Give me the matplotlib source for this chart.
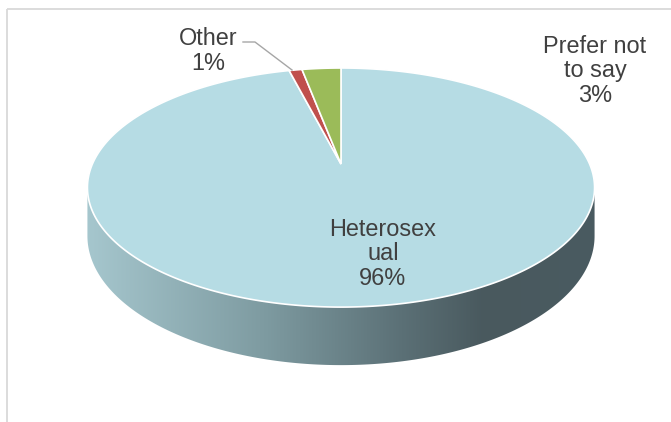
#!/usr/bin/env python3
"""3D pie chart: sexual orientation of respondents."""
import numpy as np
import matplotlib.pyplot as plt
from matplotlib.patches import Polygon, Rectangle
from matplotlib.colors import to_rgb

# Data
labels = ['Heterosex\nual', 'Other', 'Prefer not\nto say']
values = [96, 1, 3]
colors = ['#B6DCE4', '#C0504D', '#9BBB59']

# Label placement (pixel coords, y down)
label_pos = [(383, 254), (208, 51), (595, 71)]

# Pie geometry (perspective projection of a tilted disc)
CX, CY = 341, 164          # projected centre of the disc
A, C, K = 248.6, 114.9, 0.197
D0 = 46.6                  # thickness at the centre

plt.rcParams['font.family'] = ['Liberation Sans', 'DejaVu Sans']

fig = plt.figure(figsize=(6.71, 4.22), dpi=100)
ax = fig.add_axes([0, 0, 1, 1])
ax.set_xlim(0, 671)
ax.set_ylim(422, 0)
ax.axis('off')


def proj(theta, drop=0.0):
    # theta en degres, sens horaire depuis midi
    t = np.radians(theta)
    u, v = np.sin(t), np.cos(t)
    d = 1 + K * v
    return CX + A * u / d, CY - C * v / d + drop * D0 / d


# Side (front part of the cylinder) with a horizontal shading
t_r = np.degrees(np.arccos(-K))
t_l = 360 - t_r
th = np.linspace(t_r, t_l, 200)
xt, yt = proj(th)
xb, yb = proj(th[::-1], drop=1.0)
side = Polygon(np.column_stack([np.r_[xt, xb], np.r_[yt, yb]]),
               closed=True, facecolor='none', edgecolor='none')
ax.add_patch(side)

stops = [(0.0, '#A6C7CE'), (0.35, '#7E9BA1'), (0.62, '#5B7076'),
         (0.78, '#49595E'), (1.0, '#4A5B61')]
pos = np.linspace(0, 1, 400)
grad = np.zeros((1, 400, 3))
for k in range(3):
    grad[0, :, k] = np.interp(pos, [s[0] for s in stops],
                              [to_rgb(s[1])[k] for s in stops])
im = ax.imshow(grad, extent=[xt.min() - 2, xt.max() + 2, yb.max() + 2, yt.min() - 2],
               aspect='auto', interpolation='bilinear', zorder=1)
im.set_clip_path(side)

# Top face wedges, clockwise from 12 o'clock
total = sum(values)
start = 0.0
for val, col in zip(values, colors):
    end = start + 360.0 * val / total
    th = np.linspace(start, end, max(int(end - start) * 2, 4))
    x, y = proj(th)
    pts = np.column_stack([np.r_[CX, x], np.r_[CY, y]])
    ax.add_patch(Polygon(pts, closed=True, facecolor=col, edgecolor='white',
                         linewidth=1.2, joinstyle='miter', zorder=2))
    start = end

# Labels
for lab, val, (lx, ly) in zip(labels, values, label_pos):
    ax.text(lx, ly, f'{lab}\n{val / total * 100:.0f}%', ha='center', va='center',
            fontsize=16.9, color='#404040', linespacing=1.1, zorder=4)

# Leader line for "Other"
ax.plot([243, 255, 292], [42, 42, 70], color='#A6A6A6', linewidth=1.0, zorder=3)

# Chart frame
ax.add_patch(Rectangle((6.5, 9), 700, 450, fill=False, edgecolor='#D9D9D9',
                       linewidth=1.3, zorder=0))

fig.savefig('out.png', dpi=100)
